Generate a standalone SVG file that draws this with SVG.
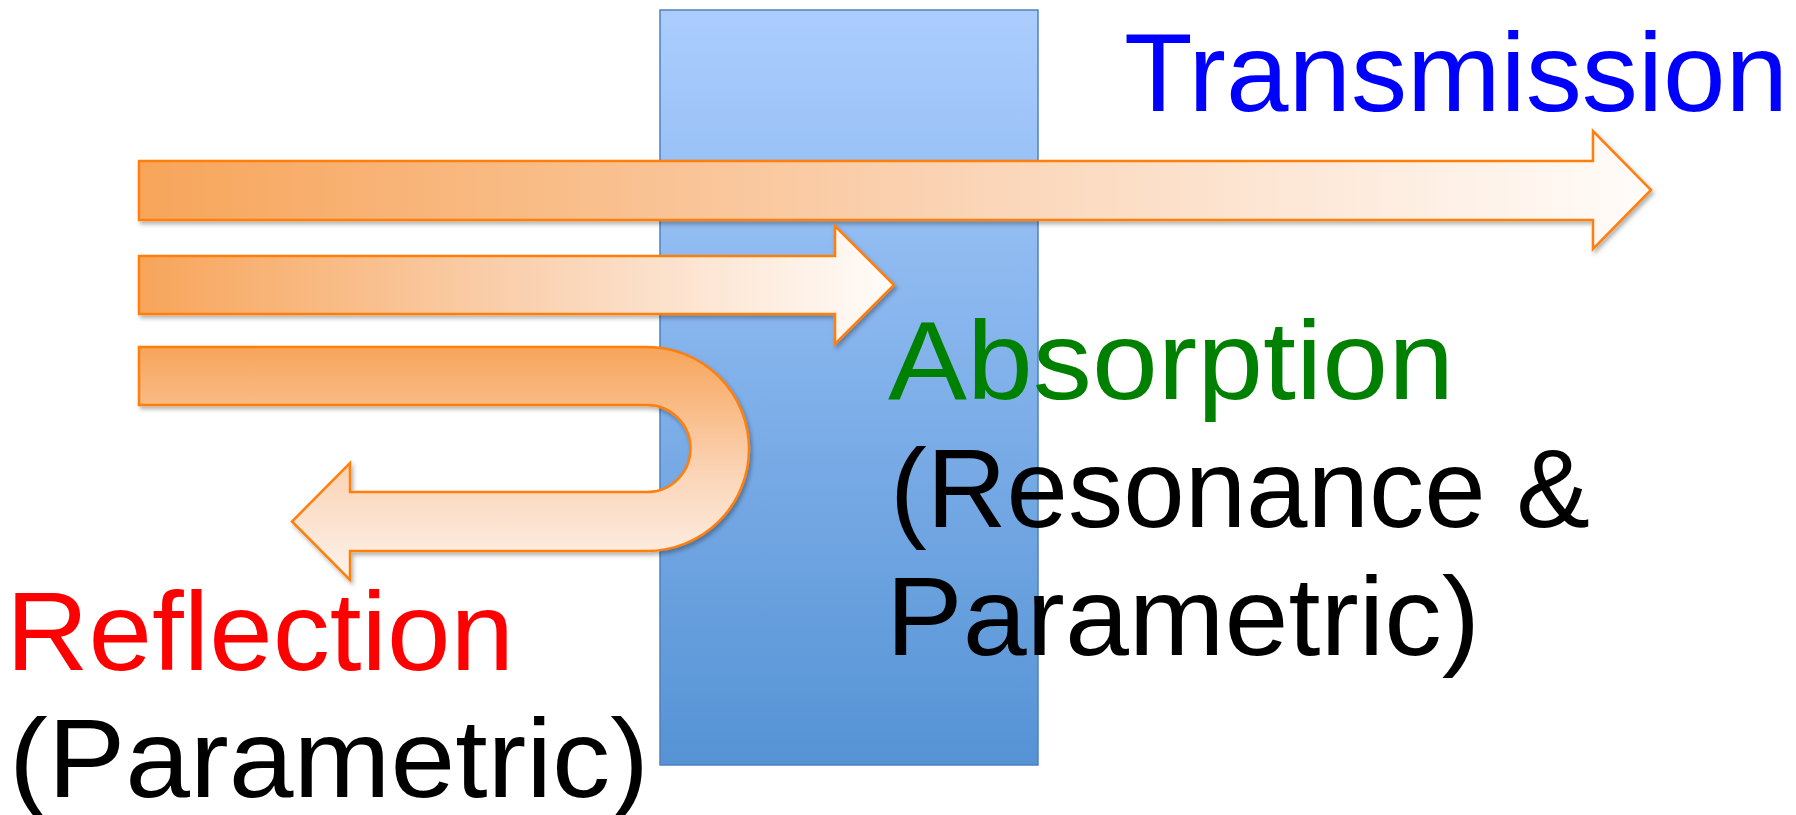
<svg xmlns="http://www.w3.org/2000/svg" width="1796" height="815" viewBox="0 0 1796 815">
  <defs>
    <linearGradient id="slabFill" x1="0" y1="0" x2="0" y2="1">
      <stop offset="0" stop-color="#abcdfe"/>
      <stop offset="1" stop-color="#5593d5"/>
    </linearGradient>
    <linearGradient id="beamH" x1="0" y1="0" x2="1" y2="0">
      <stop offset="0" stop-color="#f7a55a"/>
      <stop offset="0.5" stop-color="#fad0ae"/>
      <stop offset="1" stop-color="#fffcfa"/>
    </linearGradient>
    <linearGradient id="beamV" x1="0" y1="0" x2="0" y2="1">
      <stop offset="0" stop-color="#f7a55a"/>
      <stop offset="0.55" stop-color="#fbd5b8"/>
      <stop offset="1" stop-color="#fdf4ec"/>
    </linearGradient>
    <filter id="shadow" x="-5%" y="-20%" width="110%" height="150%">
      <feDropShadow dx="2" dy="3" stdDeviation="2" flood-color="#000" flood-opacity="0.3"/>
    </filter>
  </defs>
  <style>
    .beam { stroke: #ff7f0e; stroke-width: 2.5; stroke-linejoin: miter; filter: url(#shadow); }
    .label { font-family: "Liberation Sans", Arial, sans-serif; font-size: 112px; }
  </style>

  <rect width="1796" height="815" fill="#ffffff"/>

  <!-- material slab -->
  <g id="slab">
    <rect x="660" y="10" width="378" height="755" fill="url(#slabFill)" stroke="#4f81bd" stroke-width="1.5"/>
  </g>

  <!-- light beams -->
  <g id="connectors">
    <path id="beam-transmission" class="beam" fill="url(#beamH)"
          d="M139,161 H1593 V131 L1651,190 L1593,249 V220 H139 Z"/>
    <path id="beam-absorption" class="beam" fill="url(#beamH)"
          d="M139,256 H835 V226 L894,285 L835,344 V314 H139 Z"/>
    <path id="beam-reflection" class="beam" fill="url(#beamV)"
          d="M139,347 H647 A102,102 0 0 1 647,551 H350 V580 L292,521.5 L350,463 V492 H647 A43.5,43.5 0 0 0 647,405 H139 Z"/>
  </g>

  <!-- labels -->
  <g id="transmission">
    <text class="label" x="1124" y="111" fill="#0000ff" textLength="664" lengthAdjust="spacingAndGlyphs">Transmission</text>
  </g>
  <g id="absorption">
    <text class="label" x="888" y="399" fill="#008000" textLength="566" lengthAdjust="spacingAndGlyphs">Absorption</text>
    <text class="label" x="890" y="527" fill="#000000" textLength="700" lengthAdjust="spacingAndGlyphs">(Resonance &amp;</text>
    <text class="label" x="886" y="655" fill="#000000" textLength="594" lengthAdjust="spacingAndGlyphs">Parametric)</text>
  </g>
  <g id="reflection">
    <text class="label" x="6" y="670" fill="#ff0000" textLength="508" lengthAdjust="spacingAndGlyphs">Reflection</text>
    <text class="label" x="9" y="797" fill="#000000" textLength="640" lengthAdjust="spacingAndGlyphs">(Parametric)</text>
  </g>
</svg>
